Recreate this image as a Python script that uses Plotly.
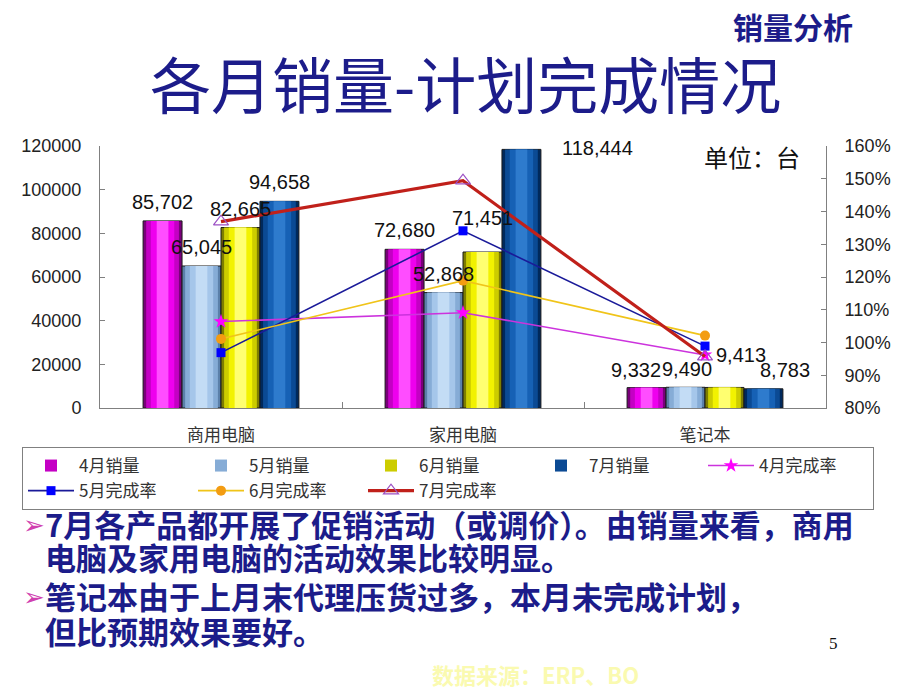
import plotly.graph_objects as go

# ---------------- data ----------------
categories = ["商用电脑", "家用电脑", "笔记本"]
months_sales = ["4月销量", "5月销量", "6月销量", "7月销量"]
months_rate = ["4月完成率", "5月完成率", "6月完成率", "7月完成率"]

sales_apr = [85702, 72680, 9332]
sales_may = [65045, 52868, 9490]
sales_jun = [82665, 71451, 9413]
sales_jul = [94658, 118444, 8783]

rate_apr = [1.064, 1.091, 0.962]
rate_may = [0.969, 1.341, 0.989]
rate_jun = [1.011, 1.189, 1.021]
rate_jul = [1.369, 1.494, 0.957]

left_ticks = [0, 20000, 40000, 60000, 80000, 100000, 120000]
right_ticks = [0.8, 0.9, 1.0, 1.1, 1.2, 1.3, 1.4, 1.5, 1.6]

title_text = "各月销量-计划完成情况"
corner_text = "销量分析"
unit_text = "单位：台"
bullet_lines = [
    "7月各产品都开展了促销活动（或调价）。由销量来看，商用",
    "电脑及家用电脑的活动效果比较明显。",
    "笔记本由于上月末代理压货过多，本月未完成计划，",
    "但比预期效果要好。",
]
page_no = "5"
source_text = "数据来源：ERP、BO"

# ---------------- styles ----------------
W, H = 920, 690
OFF = 8  # page body offset


def px(x):
    return (x - OFF) / W


def py(y):
    return 1 - (y - OFF) / H


NAVY = "#1c1c8a"
CJK = "Noto Sans CJK SC"
ARIAL = "Liberation Sans, Arial"

sales = [sales_apr, sales_may, sales_jun, sales_jul]
rates = [rate_apr, rate_may, rate_jun, rate_jul]

# cylinder-like shading layers (width fraction, colour), edge -> centre
bar_layers = [
    [(1.0, "#7a007a"), (0.84, "#c400c4"), (0.6, "#ee00ee"), (0.3, "#ff4dff")],
    [(1.0, "#5b80aa"), (0.84, "#86acd6"), (0.6, "#a5c6ea"), (0.3, "#c3dcf5")],
    [(1.0, "#7d7d00"), (0.84, "#cccc00"), (0.6, "#f2f200"), (0.3, "#ffff70")],
    [(1.0, "#00295c"), (0.84, "#0b4a94"), (0.6, "#1661b5"), (0.3, "#2e7bcd")],
]
bar_w = 0.161  # category units

label_dx = [[0, 0, -11], [0, 0, 1], [0, 0, 17], [0, 76, 22]]
label_dy = [[19, 19, 18], [19, 19, 18], [19, 34, 32], [19, 1, 19]]

line_styles = [
    dict(line=dict(color="#cc33dd", width=1.6), marker=dict(symbol="star", size=11, color="#ff00ff")),
    dict(line=dict(color="#1a1a99", width=1.6), marker=dict(symbol="square", size=9, color="#0000ff")),
    dict(line=dict(color="#f0c419", width=1.6), marker=dict(symbol="circle", size=10, color="#f39c12")),
    dict(line=dict(color="#c0201a", width=3.2),
         marker=dict(symbol="triangle-up-open", size=13, color="#9b4fc4", line=dict(width=1.2))),
]

fig = go.Figure()

for i, (name, vals) in enumerate(zip(months_sales, sales)):
    centre = (i - 1.5) * bar_w
    for k, (frac, col) in enumerate(bar_layers[i]):
        w = bar_w * frac
        fig.add_trace(go.Bar(
            x=categories, y=vals, name=name,
            width=[w] * len(vals), offset=[centre - w / 2] * len(vals),
            marker=dict(color=col, line=dict(color="#1a1a1a" if k == 0 else col, width=1 if k == 0 else 0)),
            showlegend=(k == 1), legendrank=i + 1,
            xaxis="x", yaxis="y", hoverinfo="skip",
        ))

for i, (name, vals) in enumerate(zip(months_rate, rates)):
    fig.add_trace(go.Scatter(
        x=categories, y=vals, name=name, mode="lines+markers",
        xaxis="x", yaxis="y2", legendrank=10 + i, **line_styles[i]
    ))

annotations = []
for i, vals in enumerate(sales):
    for j, v in enumerate(vals):
        annotations.append(dict(
            x=j + (i - 1.5) * bar_w, y=v, xref="x", yref="y",
            text=f"{v:,}", showarrow=False, xanchor="center", yanchor="middle",
            xshift=label_dx[i][j], yshift=label_dy[i][j],
            font=dict(family=ARIAL, size=20, color="#111111"),
        ))

annotations += [
    dict(x=px(465), y=py(82), xref="paper", yref="paper", text=title_text, showarrow=False,
         font=dict(family=CJK, size=61, color=NAVY), xanchor="center", yanchor="middle"),
    dict(x=px(793), y=py(26), xref="paper", yref="paper", text=f"<b>{corner_text}</b>", showarrow=False,
         font=dict(family=CJK, size=30, color=NAVY), xanchor="center", yanchor="middle"),
    dict(x=px(752), y=py(157), xref="paper", yref="paper", text=unit_text, showarrow=False,
         font=dict(family=CJK, size=24, color="#111111"), xanchor="center", yanchor="middle"),
    dict(x=px(833), y=py(643), xref="paper", yref="paper", text=page_no, showarrow=False,
         font=dict(family="Liberation Serif", size=17, color="#111111"), xanchor="center", yanchor="middle"),
    dict(x=px(535), y=py(674), xref="paper", yref="paper", text=f"<b>{source_text}</b>", showarrow=False,
         font=dict(family=CJK, size=22, color="#fafab0"), xanchor="center", yanchor="middle"),
]

line_y = [523, 556, 595, 630]
for txt, yy in zip(bullet_lines, line_y):
    annotations.append(dict(x=px(43), y=py(yy), xref="paper", yref="paper", text=f"<b>{txt}</b>",
                            showarrow=False, xanchor="left", yanchor="middle",
                            font=dict(family=CJK, size=31, color=NAVY)))
for yy in (line_y[0], line_y[2]):
    annotations.append(dict(x=px(34), y=py(yy + 2), xref="paper", yref="paper", text="➢",
                            showarrow=False, xanchor="center", yanchor="middle",
                            font=dict(family="DejaVu Sans", size=26, color="#d040b0")))

fig.update_layout(
    width=W, height=H,
    margin=dict(l=0, r=0, t=0, b=0, autoexpand=False),
    paper_bgcolor="white", plot_bgcolor="rgba(0,0,0,0)",
    barmode="overlay",
    showlegend=True,
    xaxis=dict(domain=[px(100), px(826)], anchor="y", type="category",
               range=[-0.5, 2.5], showline=True, linecolor="#808080", linewidth=1,
               ticks="inside", tickson="boundaries", ticklen=6, tickcolor="#808080",
               showgrid=False, zeroline=False, ticklabelstandoff=12, automargin=False,
               tickfont=dict(family=CJK, size=17, color="#333333")),
    yaxis=dict(domain=[py(408), py(146)], anchor="x", range=[0, 120000],
               tickvals=left_ticks, ticktext=[str(t) for t in left_ticks],
               showline=True, linecolor="#808080", linewidth=1, ticks="inside", ticklen=5,
               tickcolor="#808080", showgrid=False, zeroline=False, ticklabelstandoff=14,
               automargin=False, tickfont=dict(family=ARIAL, size=18, color="#222222")),
    yaxis2=dict(overlaying="y", anchor="x", side="right", range=[0.8, 1.6],
                tickvals=right_ticks, ticktext=[f"{round(t * 100)}%" for t in right_ticks],
                showline=True, linecolor="#808080", linewidth=1, ticks="inside", ticklen=5,
                tickcolor="#808080", showgrid=False, zeroline=False, ticklabelstandoff=14,
                automargin=False, tickfont=dict(family=ARIAL, size=18, color="#222222")),
    legend=dict(orientation="h", x=px(22), y=py(447), xanchor="left", yanchor="top",
                entrywidth=109, entrywidthmode="pixels", itemwidth=46,
                bordercolor="#808080", borderwidth=1, bgcolor="white",
                font=dict(family=CJK, size=17, color="#333333"), traceorder="normal",
                tracegroupgap=0),
    annotations=annotations,
)

fig.write_html("out.html")
